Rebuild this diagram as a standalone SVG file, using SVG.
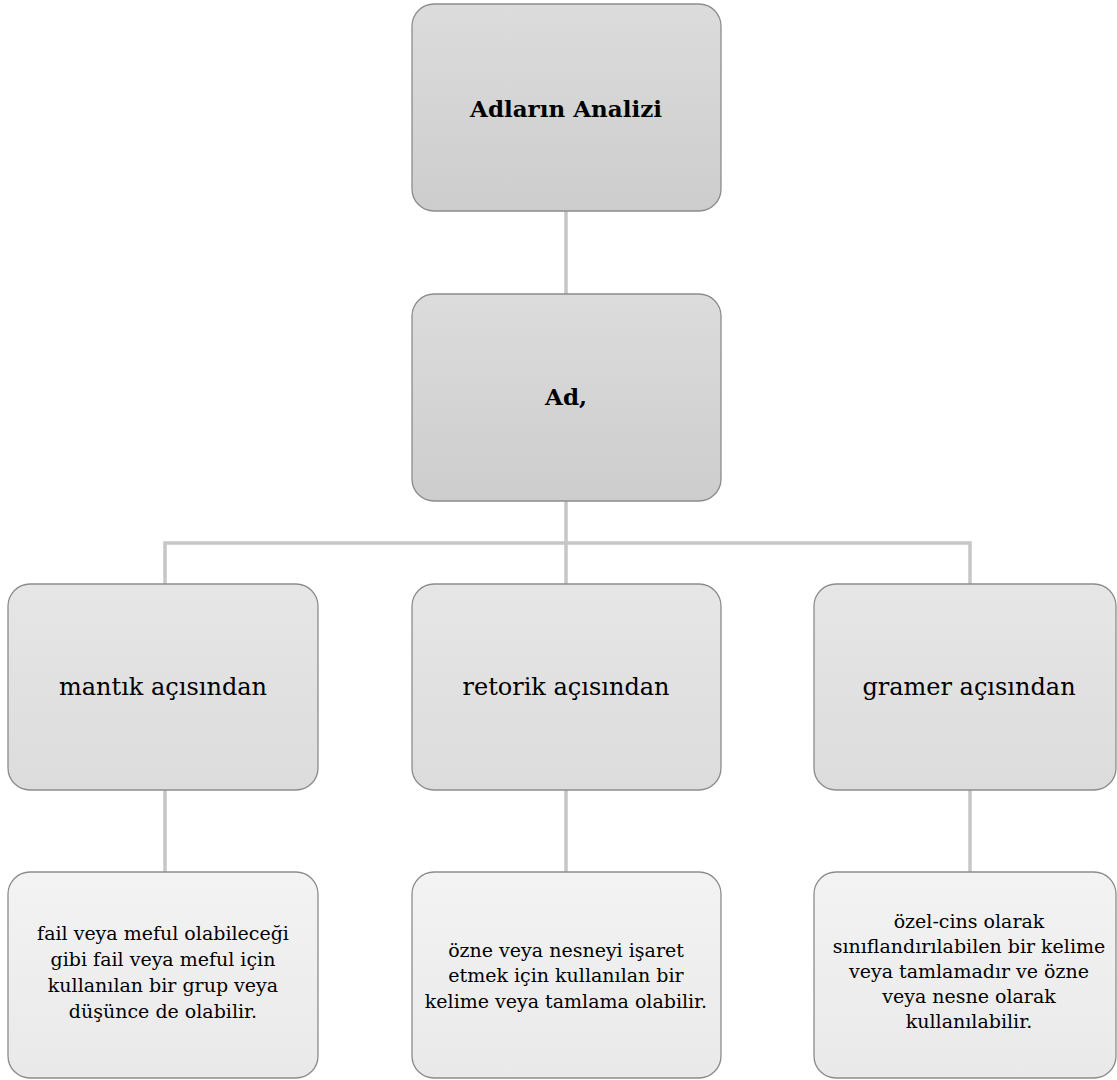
<svg xmlns="http://www.w3.org/2000/svg" width="1117" height="1080" viewBox="0 0 1117 1080">
<defs>
<linearGradient id="g1" x1="0" y1="0" x2="0" y2="1"><stop offset="0" stop-color="#dcdcdc"/><stop offset="1" stop-color="#cdcdcd"/></linearGradient>
<linearGradient id="g2" x1="0" y1="0" x2="0" y2="1"><stop offset="0" stop-color="#e6e6e6"/><stop offset="1" stop-color="#dcdcdc"/></linearGradient>
<linearGradient id="g3" x1="0" y1="0" x2="0" y2="1"><stop offset="0" stop-color="#f3f3f3"/><stop offset="1" stop-color="#e9e9e9"/></linearGradient>
</defs>
<style>
.b{stroke:#8c8c8c;stroke-width:1.3}
.c{stroke:#c6c6c6;stroke-width:3.5;fill:none}
text{font-family:"DejaVu Serif","Liberation Serif",serif;fill:#000;text-anchor:middle}
.t1{font-size:23px;font-weight:bold}
.t2{font-size:24px}
.t3{font-size:19px}
</style>
<rect width="1117" height="1080" fill="#fff"/>
<g id="connectors">
<line class="c" x1="566" y1="211" x2="566" y2="294"/>
<line class="c" x1="566" y1="501" x2="566" y2="584"/>
<polyline class="c" points="165,584 165,543 970,543 970,584"/>
<line class="c" x1="165" y1="790" x2="165" y2="872"/>
<line class="c" x1="566" y1="790" x2="566" y2="872"/>
<line class="c" x1="970" y1="790" x2="970" y2="872"/>
</g>
<g id="n1"><rect class="b" x="412" y="4" width="309" height="207" rx="22" fill="url(#g1)"/><text class="t1" x="566" y="117">Adların Analizi</text></g>
<g id="n2"><rect class="b" x="412" y="294" width="309" height="207" rx="22" fill="url(#g1)"/><text class="t1" x="566" y="405">Ad,</text></g>
<g id="n3"><rect class="b" x="8" y="584" width="310" height="206" rx="22" fill="url(#g2)"/><text class="t2" x="163" y="695">mantık açısından</text></g>
<g id="n4"><rect class="b" x="412" y="584" width="309" height="206" rx="22" fill="url(#g2)"/><text class="t2" x="566" y="695">retorik açısından</text></g>
<g id="n5"><rect class="b" x="814" y="584" width="302" height="206" rx="22" fill="url(#g2)"/><text class="t2" x="969" y="695">gramer açısından</text></g>
<g id="n6"><rect class="b" x="8" y="872" width="310" height="206" rx="22" fill="url(#g3)"/>
<text class="t3" x="163"><tspan x="163" y="940">fail veya meful olabileceği</tspan><tspan x="163" y="966">gibi fail veya meful için</tspan><tspan x="163" y="992">kullanılan bir grup veya</tspan><tspan x="163" y="1018">düşünce de olabilir.</tspan></text></g>
<g id="n7"><rect class="b" x="412" y="872" width="309" height="206" rx="22" fill="url(#g3)"/>
<text class="t3" x="566"><tspan x="566" y="957">özne veya nesneyi işaret</tspan><tspan x="566" y="982">etmek için kullanılan bir</tspan><tspan x="566" y="1008">kelime veya tamlama olabilir.</tspan></text></g>
<g id="n8"><rect class="b" x="814" y="872" width="302" height="206" rx="22" fill="url(#g3)"/>
<text class="t3" x="969"><tspan x="969" y="928">özel-cins olarak</tspan><tspan x="969" y="953">sınıflandırılabilen bir kelime</tspan><tspan x="969" y="978">veya tamlamadır ve özne</tspan><tspan x="969" y="1003">veya nesne olarak</tspan><tspan x="969" y="1028">kullanılabilir.</tspan></text></g>
</svg>
